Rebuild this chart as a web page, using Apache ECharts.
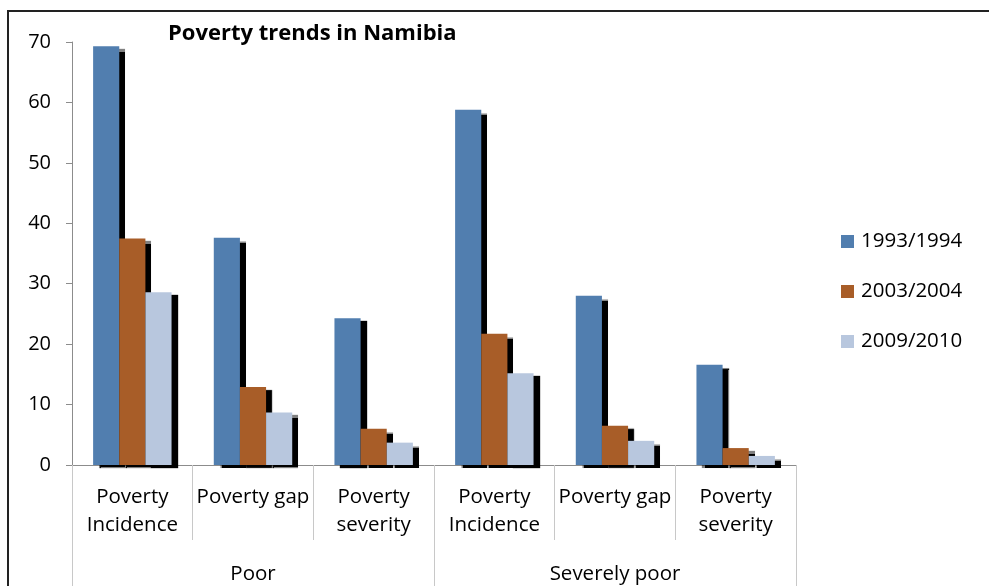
<!DOCTYPE html>
<html>
<head>
<meta charset="utf-8">
<script src="https://cdn.jsdelivr.net/npm/echarts@6/dist/echarts.min.js"></script>
<style>
  html, body { margin: 0; padding: 0; background: #fff; }
  #chart { width: 989px; height: 586px; }
</style>
</head>
<body>
<div id="chart"></div>
<script>
// Poverty measures per group, for three survey rounds
const categories = ['Poverty\nIncidence', 'Poverty gap', 'Poverty\nseverity',
                    'Poverty\nIncidence', 'Poverty gap', 'Poverty\nseverity'];
const groups = ['Poor', 'Severely poor'];
const seriesNames = ['1993/1994', '2003/2004', '2009/2010'];
const values1993 = [69.3, 37.6, 24.3, 58.8, 28.0, 16.6];
const values2003 = [37.5, 12.9, 6.0, 21.7, 6.5, 2.8];
const values2009 = [28.6, 8.7, 3.7, 15.2, 4.0, 1.5];
const yTicks = { min: 0, max: 70, interval: 10 };

const colors = ['#517EAF', '#A85D28', '#B8C7DE'];
const FONT = 'Open Sans';

const chart = echarts.init(document.getElementById('chart'), null, { renderer: 'canvas' });

function barSeries(name, data, color) {
  return {
    name: name,
    type: 'bar',
    xAxisIndex: 0,
    data: data,
    barGap: '0%',
    barCategoryGap: '35%',
    itemStyle: {
      color: color,
      borderWidth: 0,
      shadowColor: '#000000',
      shadowBlur: 1,
      shadowOffsetX: 6,
      shadowOffsetY: 3
    },
    emphasis: { disabled: true }
  };
}

chart.setOption({
  animation: false,
  backgroundColor: '#ffffff',
  textStyle: { fontFamily: FONT },
  title: {
    text: 'Poverty trends in Namibia',
    left: 163,
    top: 18,
    textStyle: { fontFamily: FONT, fontSize: 22, fontWeight: 'bold', color: '#000' }
  },
  legend: {
    orient: 'vertical',
    left: 836,
    top: 226,
    itemWidth: 13,
    itemHeight: 13,
    itemGap: 29,
    icon: 'rect',
    textStyle: { fontFamily: FONT, fontSize: 20.5, color: '#000', padding: [0, 0, 0, 2] },
    data: seriesNames
  },
  graphic: [{
    type: 'rect',
    shape: { x: 8, y: 11, width: 1000, height: 600 },
    style: { fill: 'none', stroke: '#222', lineWidth: 2 },
    silent: true
  }],
  grid: { left: 72, right: 193, top: 42, bottom: 121 },
  xAxis: [{
    type: 'category',
    data: categories,
    position: 'bottom',
    axisLine: { show: true, lineStyle: { color: '#8c8c8c', width: 1 } },
    axisTick: { show: true, interval: 0, length: 75, lineStyle: { color: '#c8c8c8' } },
    axisLabel: {
      interval: 0, margin: 18, color: '#000', fontFamily: FONT, fontSize: 20.5, lineHeight: 28
    }
  }, {
    type: 'category',
    data: groups,
    position: 'bottom',
    axisLine: { show: false },
    axisTick: { show: true, interval: 0, length: 130, lineStyle: { color: '#c8c8c8' } },
    axisLabel: { interval: 0, margin: 99, color: '#000', fontFamily: FONT, fontSize: 20.5 }
  }],
  yAxis: {
    type: 'value',
    min: yTicks.min,
    max: yTicks.max,
    interval: yTicks.interval,
    axisLine: { show: true, lineStyle: { color: '#8c8c8c' } },
    axisTick: { show: true, length: 6, lineStyle: { color: '#8c8c8c' } },
    splitLine: { show: false },
    axisLabel: { color: '#000', fontFamily: FONT, fontSize: 20, margin: 21 }
  },
  series: [
    barSeries(seriesNames[0], values1993, colors[0]),
    barSeries(seriesNames[1], values2003, colors[1]),
    barSeries(seriesNames[2], values2009, colors[2])
  ]
});
</script>
</body>
</html>
